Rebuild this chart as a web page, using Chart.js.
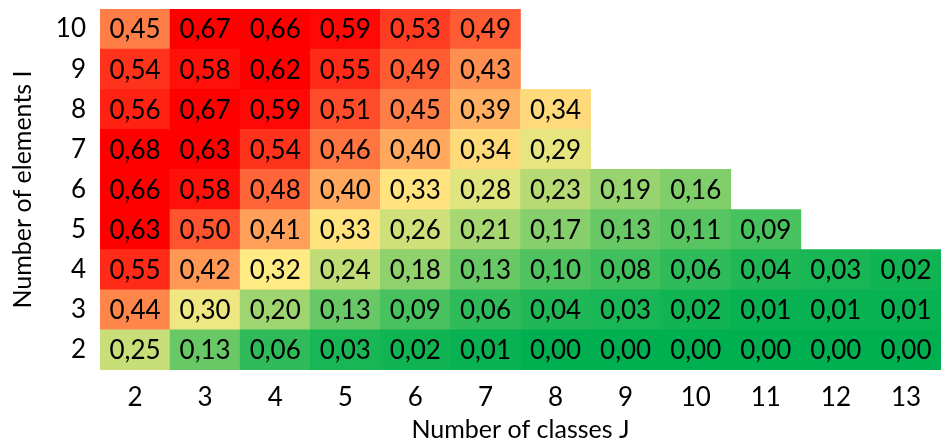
<!DOCTYPE html>
<html>
<head>
<meta charset="utf-8">
<script src="https://cdn.jsdelivr.net/npm/chart.js@4"></script>
<style>
  html, body { margin: 0; padding: 0; background: #fff; }
  #wrap { width: 941px; height: 443px; }
</style>
</head>
<body>
<div id="wrap"><canvas id="heat"></canvas></div>
<script>
// Data
const classes = ["2", "3", "4", "5", "6", "7", "8", "9", "10", "11", "12", "13"];
const elements = [2, 3, 4, 5, 6, 7, 8, 9, 10];

const row2  = [0.25, 0.13, 0.06, 0.03, 0.02, 0.01, 0.00, 0.00, 0.00, 0.00, 0.00, 0.00];
const row3  = [0.44, 0.30, 0.20, 0.13, 0.09, 0.06, 0.04, 0.03, 0.02, 0.01, 0.01, 0.01];
const row4  = [0.55, 0.42, 0.32, 0.24, 0.18, 0.13, 0.10, 0.08, 0.06, 0.04, 0.03, 0.02];
const row5  = [0.63, 0.50, 0.41, 0.33, 0.26, 0.21, 0.17, 0.13, 0.11, 0.09];
const row6  = [0.66, 0.58, 0.48, 0.40, 0.33, 0.28, 0.23, 0.19, 0.16];
const row7  = [0.68, 0.63, 0.54, 0.46, 0.40, 0.34, 0.29];
const row8  = [0.56, 0.67, 0.59, 0.51, 0.45, 0.39, 0.34];
const row9  = [0.54, 0.58, 0.62, 0.55, 0.49, 0.43];
const row10 = [0.45, 0.67, 0.66, 0.59, 0.53, 0.49];
const rows = [row2, row3, row4, row5, row6, row7, row8, row9, row10];

const FONT = "Lato";

// Excel-style 3 colour scale: green -> yellow -> red
const lo = [0, 176, 80], mid = [255, 235, 132], hi = [255, 0, 0];
const vMid = 0.32, vMax = 0.60;
function cellColor(v) {
    let a, b, t;
    if (v <= vMid) { a = lo; b = mid; t = v / vMid; }
    else { a = mid; b = hi; t = Math.min(1, (v - vMid) / (vMax - vMid)); }
    const c = a.map((x, i) => Math.round(x + (b[i] - x) * t));
    return "rgb(" + c.join(",") + ")";
}

const datasets = rows.map((vals, i) => {
    const r = elements[i];
    return {
        label: "I=" + r,
        values: vals,
        data: classes.map((c, j) => j < vals.length ? [r - 0.5, r + 0.5] : null),
        backgroundColor: classes.map((c, j) => j < vals.length ? cellColor(vals[j]) : "transparent"),
        borderWidth: 0,
        grouped: false,
        barPercentage: 1,
        categoryPercentage: 1
    };
});

// write the numbers into the cells
const cellLabels = {
    id: "cellLabels",
    afterDatasetsDraw(chart) {
        const g = chart.ctx;
        g.save();
        g.font = "26px " + FONT;
        g.fillStyle = "#000";
        g.textAlign = "center";
        g.textBaseline = "middle";
        chart.data.datasets.forEach((ds, i) => {
            chart.getDatasetMeta(i).data.forEach((bar, j) => {
                if (j >= ds.values.length) return;
                const p = bar.getProps(["x", "y", "base"], true);
                g.fillText(ds.values[j].toFixed(2).replace(".", ","), p.x, (p.y + p.base) / 2 + 1);
            });
        });
        g.restore();
    }
};

new Chart(document.getElementById("heat"), {
    type: "bar",
    data: { labels: classes, datasets: datasets },
    options: {
        responsive: true,
        maintainAspectRatio: false,
        animation: false,
        layout: { padding: { top: 9, right: 0, left: 8, bottom: 0 } },
        plugins: { legend: { display: false }, tooltip: { enabled: false } },
        scales: {
            x: {
                grid: { display: false },
                border: { display: false },
                ticks: { color: "#000", font: { family: FONT, size: 26 }, padding: 4 },
                title: { display: true, text: "Number of classes J", color: "#000",
                         font: { family: FONT, size: 25 }, padding: { top: 10, bottom: -2 } },
                afterFit(s) { s.height = 73; }
            },
            y: {
                min: 1.5,
                max: 10.5,
                grid: { display: false },
                border: { display: false },
                afterBuildTicks(s) { s.ticks = elements.map(v => ({ value: v })); },
                ticks: { color: "#000", font: { family: FONT, size: 26 }, padding: 6 },
                title: { display: true, text: "Number of elements I", color: "#000",
                         font: { family: FONT, size: 25 }, padding: 0 },
                afterFit(s) { s.width = 92; s.paddingTop = 0; s.paddingBottom = 0; }
            }
        }
    },
    plugins: [cellLabels]
});
</script>
</body>
</html>
